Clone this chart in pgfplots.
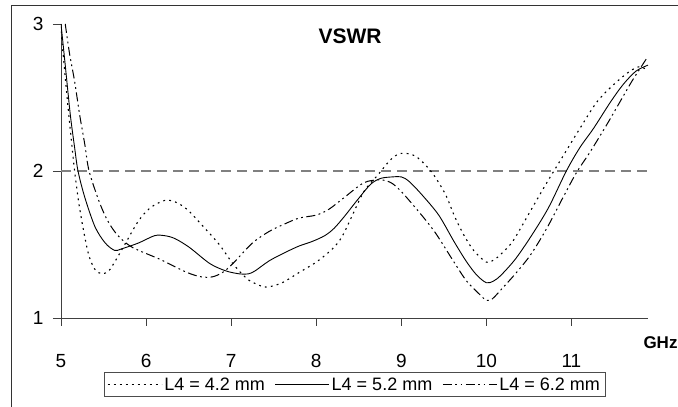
\documentclass[border=0pt]{standalone}
\usepackage{fontspec}
\setmainfont{Liberation Sans}
\usepackage{pgfplots}
\pgfplotsset{compat=1.18}

\begin{document}
\begin{tikzpicture}
\useasboundingbox (0pt,0pt) rectangle (678pt,407pt);
% outer chart frame (only top and left edges are inside the picture)
\draw[black!80, line width=0.9pt] (11.7pt,0pt) -- (11.7pt,401.7pt) -- (678pt,401.7pt);
\begin{axis}[
    at={(61pt,89pt)}, anchor=south west,
    scale only axis, width=587pt, height=294pt,
    xmin=5, xmax=11.9, ymin=1, ymax=3,
    axis lines=left,
    axis line style={-, black!75, line width=0.8pt},
    xtick={5,6,7,8,9,10,11}, ytick={1,2,3},
    tick align=outside, major tick length=8pt,
    tick style={black!75, line width=0.8pt},
    tick label style={font=\fontsize{19}{19}\selectfont},
    xticklabel style={yshift=-25pt},
    yticklabel style={xshift=-6pt},
    /pgf/number format/assume math mode=true,
    legend style={at={(0.5,-0.2262)}, anchor=center, draw=black!70,
        font=\fontsize{18}{18}\selectfont, legend columns=3,
        /tikz/every even column/.append style={column sep=8pt},
        inner xsep=3pt, inner ysep=3pt},
    legend image code/.code={\draw[#1] (0pt,0pt) -- (54pt,0pt);},
    clip mode=individual,
]
\addplot[black!50, line width=1.2pt, dash pattern=on 10pt off 6pt, forget plot]
    coordinates {(5,2) (11.9,2)};

% L4 = 4.2 mm
\addplot[black, line width=1.1pt, dash pattern=on 1.8pt off 4.2pt, smooth] coordinates {
(5.00,2.95) (5.04,2.70) (5.08,2.45) (5.12,2.22) (5.16,2.00) (5.21,1.78)
(5.27,1.58) (5.33,1.42) (5.40,1.33) (5.48,1.30) (5.56,1.32) (5.63,1.38)
(5.75,1.50) (5.91,1.66) (6.05,1.75) (6.22,1.80) (6.34,1.79) (6.48,1.74)
(6.66,1.63) (6.86,1.50) (7.02,1.37) (7.18,1.27) (7.30,1.23) (7.42,1.21)
(7.60,1.24) (7.80,1.31) (8.00,1.38) (8.19,1.47) (8.30,1.55) (8.41,1.68)
(8.56,1.86) (8.72,1.97) (8.88,2.08) (9.00,2.12) (9.17,2.10) (9.36,1.99)
(9.52,1.84) (9.62,1.70) (9.73,1.57) (9.85,1.46) (10.00,1.38) (10.10,1.40)
(10.20,1.45) (10.32,1.53) (10.52,1.73) (10.71,1.92) (10.91,2.11) (11.10,2.29)
(11.30,2.47) (11.50,2.59) (11.69,2.68) (11.81,2.71) (11.90,2.68)
};
\addlegendentry{L4 = 4.2 mm}

% L4 = 5.2 mm
\addplot[black, line width=0.9pt, smooth] coordinates {
(5.00,3.00) (5.05,2.72) (5.11,2.38) (5.16,2.16) (5.20,2.00) (5.28,1.82)
(5.40,1.62) (5.52,1.51) (5.63,1.46) (5.71,1.47) (5.91,1.51) (6.10,1.56)
(6.22,1.56) (6.34,1.54) (6.51,1.48) (6.75,1.37) (6.94,1.32) (7.10,1.30)
(7.20,1.30) (7.28,1.32) (7.45,1.39) (7.65,1.45) (7.80,1.49) (7.95,1.52)
(8.10,1.56) (8.21,1.61) (8.33,1.69) (8.48,1.80) (8.64,1.91) (8.76,1.95)
(8.90,1.96) (9.00,1.96) (9.09,1.93) (9.24,1.84) (9.44,1.70) (9.62,1.52)
(9.77,1.38) (9.89,1.29) (10.00,1.24) (10.08,1.25) (10.17,1.29) (10.34,1.40)
(10.53,1.56) (10.73,1.75) (10.94,2.00) (11.10,2.16) (11.26,2.29) (11.46,2.47)
(11.61,2.59) (11.76,2.68) (11.90,2.72)
};
\addlegendentry{L4 = 5.2 mm}

% L4 = 6.2 mm
\addplot[black, line width=1pt,
    dash pattern=on 9pt off 3.5pt on 1.8pt off 3.5pt on 1.8pt off 3.5pt, smooth] coordinates {
(5.05,3.00) (5.10,2.80) (5.16,2.61) (5.22,2.38) (5.28,2.18) (5.33,2.00)
(5.45,1.79) (5.55,1.66) (5.67,1.56) (5.84,1.48) (6.16,1.40) (6.48,1.31)
(6.65,1.28) (6.78,1.28) (6.90,1.31) (7.02,1.37) (7.25,1.51) (7.45,1.59)
(7.63,1.64) (7.80,1.68) (8.00,1.70) (8.15,1.74) (8.33,1.82) (8.56,1.92)
(8.75,1.94) (8.88,1.92) (9.00,1.86) (9.21,1.72) (9.40,1.58) (9.62,1.38)
(9.77,1.25) (9.94,1.15) (10.00,1.12) (10.07,1.13) (10.20,1.21) (10.34,1.30)
(10.52,1.43) (10.71,1.61) (10.91,1.83) (11.06,1.99) (11.22,2.13) (11.41,2.31)
(11.57,2.47) (11.71,2.61) (11.81,2.70) (11.90,2.78)
};
\addlegendentry{L4 = 6.2 mm}
\end{axis}
\node[font=\bfseries\fontsize{21}{21}\selectfont] at (350pt,370.3pt) {VSWR};
\node[font=\bfseries\fontsize{17}{17}\selectfont] at (660.5pt,64.5pt) {GHz};
\end{tikzpicture}
\end{document}
